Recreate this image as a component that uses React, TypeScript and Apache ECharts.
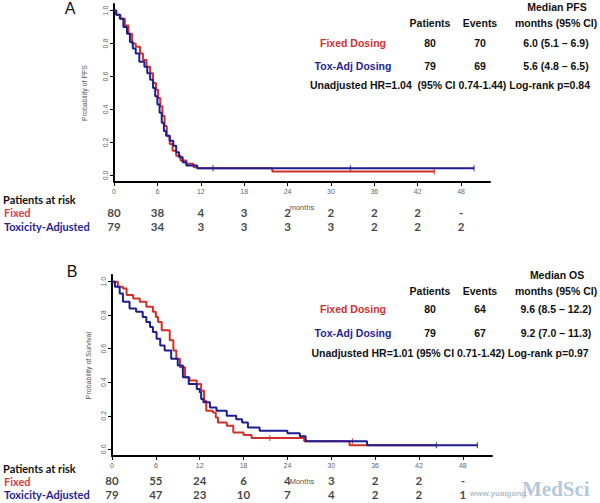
import React, { useEffect, useRef } from "react";
import * as echarts from "echarts";

// ---------- Data ----------
const RED = "#d0302a";
const BLUE = "#1e1e92";

// Panel A: Progression-free survival (months, probability after step)
const pfsFixedT = [0, 0.3, 0.9, 1.5, 2.0, 2.5, 3.0, 3.6, 4.0, 4.5, 5.0, 5.4, 5.8, 6.1, 6.4, 6.7, 7.0, 7.3, 7.7, 8.1, 8.6, 9.2, 10.0, 11.0, 11.6, 21.9, 44.3];
const pfsFixedS = [1.0, 0.975, 0.95, 0.91, 0.86, 0.8, 0.78, 0.74, 0.7, 0.66, 0.62, 0.56, 0.52, 0.47, 0.42, 0.36, 0.3, 0.24, 0.19, 0.15, 0.12, 0.09, 0.07, 0.05, 0.043, 0.024, 0.024];
const pfsToxT = [0, 0.3, 0.8, 1.3, 1.8, 2.2, 2.6, 3.0, 3.5, 4.2, 4.6, 5.0, 5.4, 5.7, 6.0, 6.3, 6.6, 6.9, 7.2, 7.7, 8.2, 8.6, 9.0, 9.5, 10.0, 11.5, 49.8];
const pfsToxS = [1.0, 0.975, 0.95, 0.9, 0.86, 0.81, 0.77, 0.74, 0.69, 0.66, 0.62, 0.58, 0.53, 0.48, 0.43, 0.38, 0.32, 0.27, 0.24, 0.21, 0.18, 0.14, 0.11, 0.08, 0.06, 0.043, 0.043];
const pfsFixedCensor = [[44.3, 0.024]];
const pfsToxCensor = [[13.7, 0.043], [32.7, 0.043], [49.8, 0.043]];

// Panel B: Overall survival
const osFixedT = [0, 0.8, 1.5, 2.0, 2.9, 3.8, 4.7, 5.6, 6.0, 6.3, 6.8, 7.9, 8.4, 8.8, 9.3, 10.0, 10.6, 11.6, 12.2, 12.6, 12.9, 13.8, 14.2, 14.5, 15.7, 16.6, 18.0, 19.1, 26.3, 32.5, 44.4];
const osFixedS = [1.0, 0.97, 0.96, 0.92, 0.9, 0.88, 0.85, 0.82, 0.79, 0.76, 0.71, 0.65, 0.59, 0.54, 0.49, 0.43, 0.41, 0.39, 0.35, 0.29, 0.23, 0.22, 0.19, 0.16, 0.14, 0.1, 0.085, 0.068, 0.048, 0.024, 0.024];
const osToxT = [0, 0.4, 1.05, 1.5, 2.4, 3.3, 4.2, 4.7, 5.2, 5.6, 6.1, 6.6, 7.2, 8.1, 9.0, 9.7, 10.5, 11.6, 12.0, 12.2, 12.5, 13.4, 14.3, 15.7, 17.0, 17.8, 18.6, 20.2, 24.0, 25.7, 26.5, 34.9, 50.0];
const osToxS = [1.0, 0.97, 0.93, 0.88, 0.84, 0.82, 0.79, 0.76, 0.73, 0.7, 0.66, 0.62, 0.59, 0.54, 0.5, 0.43, 0.39, 0.36, 0.34, 0.3, 0.28, 0.25, 0.23, 0.2, 0.18, 0.16, 0.13, 0.11, 0.096, 0.078, 0.048, 0.024, 0.024];
const osFixedCensor = [[21.6, 0.068], [32.9, 0.048]];
const osToxCensor = [[44.4, 0.024], [50.0, 0.024]];

// Axis ticks
const xTicks = [0, 6, 12, 18, 24, 30, 36, 42, 48];
const yTicks = [0, 0.2, 0.4, 0.6, 0.8, 1.0];

// Patients at risk
const riskMonths = [0, 6, 12, 18, 24, 30, 36, 42, 48];
const pfsRiskFixed = ["80", "38", "4", "3", "2", "2", "2", "2", "-"];
const pfsRiskTox = ["79", "34", "3", "3", "3", "3", "2", "2", "2"];
const osRiskFixed = ["80", "55", "24", "6", "4", "3", "2", "2", "-"];
const osRiskTox = ["79", "47", "23", "10", "7", "4", "2", "2", "1"];

// Summary tables
const tableHeader = ["Patients", "Events", "months (95% CI)"];
const pfsTitle = "Median PFS";
const pfsFixedRow = ["Fixed Dosing", "80", "70", "6.0 (5.1 \u2013 6.9)"];
const pfsToxRow = ["Tox-Adj Dosing", "79", "69", "5.6 (4.8 \u2013 6.5)"];
const pfsHR = "Unadjusted HR=1.04  (95% CI 0.74-1.44) Log-rank p=0.84";
const osTitle = "Median OS";
const osFixedRow = ["Fixed Dosing", "80", "64", "9.6 (8.5 \u2013 12.2)"];
const osToxRow = ["Tox-Adj Dosing", "79", "67", "9.2 (7.0 \u2013 11.3)"];
const osHR = "Unadjusted HR=1.01 (95% CI 0.71-1.42) Log-rank p=0.97";

// ---------- Helpers ----------
const zip = (t: number[], s: number[]) => t.map((v, i) => [v, s[i]]);

const ARIAL = "'Liberation Sans', Arial, sans-serif";
const CAL = "Lato, 'Open Sans', sans-serif";

function kmAxes(gridIndex: number, yName: string, xName: string, yGap: number) {
  const x = {
    type: "value",
    gridIndex,
    min: 0,
    max: 52,
    name: xName,
    nameLocation: "middle",
    nameGap: 21,
    nameTextStyle: { fontSize: 7.5, color: "#555", fontFamily: ARIAL },
    splitLine: { show: false },
    axisLine: { onZero: false, lineStyle: { color: "#000", width: 2 } },
    axisTick: { show: true, customValues: xTicks, length: 4, lineStyle: { color: "#000", width: 1 } },
    axisLabel: { customValues: xTicks, fontSize: 7, color: "#666", margin: 6, fontFamily: ARIAL },
  };
  const y = {
    type: "value",
    gridIndex,
    min: -0.04,
    max: 1.04,
    name: yName,
    nameLocation: "middle",
    nameGap: yGap,
    nameRotate: 90,
    nameTextStyle: { fontSize: 7, color: "#555", fontFamily: ARIAL },
    splitLine: { show: false },
    axisLine: { onZero: false, lineStyle: { color: "#000", width: 2 } },
    axisTick: { show: true, customValues: yTicks, length: 4, lineStyle: { color: "#000", width: 1 } },
    axisLabel: {
      customValues: yTicks,
      rotate: 90,
      fontSize: 7,
      color: "#666",
      margin: 5,
      fontFamily: ARIAL,
      formatter: (v: number) => v.toFixed(1),
    },
  };
  return { x, y };
}

function riskAxes(gridIndex: number) {
  return {
    x: { type: "value", gridIndex, min: 0, max: 52, show: false },
    y: { type: "category", gridIndex, data: ["Toxicity-Adjusted", "Fixed"], show: false },
  };
}

function kmLine(name: string, data: number[][], color: string, xi: number, yi: number) {
  return {
    type: "line",
    name,
    xAxisIndex: xi,
    yAxisIndex: yi,
    step: "end",
    symbol: "none",
    data,
    lineStyle: { color, width: 2 },
    itemStyle: { color },
    silent: true,
  };
}

function censor(data: number[][], color: string, xi: number, yi: number) {
  return {
    type: "scatter",
    xAxisIndex: xi,
    yAxisIndex: yi,
    symbol: "rect",
    symbolSize: [1.2, 6],
    data,
    itemStyle: { color },
    silent: true,
  };
}

function riskRow(values: string[], row: string, xi: number, yi: number) {
  return {
    type: "scatter",
    xAxisIndex: xi,
    yAxisIndex: yi,
    symbolSize: 1,
    itemStyle: { color: "transparent" },
    clip: false,
    silent: true,
    data: riskMonths.map((m, i) => ({ name: values[i], value: [m, row] })),
    label: {
      show: true,
      position: "inside",
      formatter: "{b}",
      fontSize: 11.5,
      fontWeight: "bold",
      fontFamily: CAL,
      color: "#111",
    },
  };
}

function txt(text: string, x: number, y: number, opts: any = {}) {
  return {
    type: "text",
    x,
    y,
    silent: true,
    style: {
      text,
      align: opts.align || "center",
      verticalAlign: "middle",
      fontSize: opts.size || 10.5,
      fontWeight: opts.weight || "bold",
      fontFamily: opts.family || ARIAL,
      fill: opts.color || "#111",
      opacity: opts.opacity == null ? 1 : opts.opacity,
    },
  };
}

function summaryTable(title: string, fixedRow: string[], toxRow: string[], hr: string, y0: number, rowYs: number[], hrY: number, headY: number) {
  const cols = [353, 430, 480, 556];
  const els: any[] = [];
  els.push(txt(title, 557, y0));
  tableHeader.forEach((h, i) => els.push(txt(h, cols[i + 1], headY)));
  fixedRow.forEach((v, i) => els.push(txt(v, cols[i], rowYs[0], { color: i === 0 ? "#cf3232" : "#111" })));
  toxRow.forEach((v, i) => els.push(txt(v, cols[i], rowYs[1], { color: i === 0 ? "#25258c" : "#111" })));
  els.push(txt(hr, 450, hrY));
  return els;
}

export default function App() {
  const ref = useRef<HTMLDivElement>(null);
  useEffect(() => {
    if (!ref.current) return;
    const chart = echarts.init(ref.current, undefined, { renderer: "svg" });
    const a = kmAxes(0, "Probability of PFS", "months", 26);
    const b = kmAxes(1, "Probability of Survival", "Months", 20);
    const ra = riskAxes(2);
    const rb = riskAxes(3);

    const graphics: any[] = [
      txt("A", 70, 8, { size: 16, weight: "normal" }),
      txt("B", 72, 271, { size: 16, weight: "normal" }),
      ...summaryTable(pfsTitle, pfsFixedRow, pfsToxRow, pfsHR, 7, [43, 66], 85, 23),
      ...summaryTable(osTitle, osFixedRow, osToxRow, osHR, 275, [309, 333], 353, 291),
      txt("Patients at risk", 3, 199, { align: "left", size: 11, family: CAL }),
      txt("Fixed", 4, 212, { align: "left", size: 11, family: CAL, color: "#d6404a" }),
      txt("Toxicity-Adjusted", 4, 226, { align: "left", size: 11, family: CAL, color: "#25258c" }),
      txt("Patients at risk", 3, 468, { align: "left", size: 11, family: CAL }),
      txt("Fixed", 4, 481, { align: "left", size: 11, family: CAL, color: "#d6404a" }),
      txt("Toxicity-Adjusted", 4, 494, { align: "left", size: 11, family: CAL, color: "#25258c" }),
      txt("www.yuaigong", 470, 493, { align: "left", size: 8, weight: "bold", color: "#9aa6b4", opacity: 0.75 }),
      txt("MedSci", 522, 489, { align: "left", size: 21, weight: "bold", family: "'Liberation Serif', serif", color: "#9fbad6", opacity: 0.8 }),
    ];

    chart.setOption({
      animation: false,
      backgroundColor: "#fff",
      grid: [
        { left: 114, width: 376, top: 4, height: 178 },
        { left: 112, width: 380, top: 275, height: 181 },
        { left: 114, width: 376, top: 205, height: 28 },
        { left: 112, width: 380, top: 474, height: 27 },
      ],
      xAxis: [a.x, b.x, ra.x, rb.x],
      yAxis: [a.y, b.y, ra.y, rb.y],
      series: [
        kmLine("Fixed", zip(pfsFixedT, pfsFixedS), RED, 0, 0),
        kmLine("Toxicity-Adjusted", zip(pfsToxT, pfsToxS), BLUE, 0, 0),
        censor(pfsFixedCensor, RED, 0, 0),
        censor(pfsToxCensor, BLUE, 0, 0),
        kmLine("Fixed", zip(osFixedT, osFixedS), RED, 1, 1),
        kmLine("Toxicity-Adjusted", zip(osToxT, osToxS), BLUE, 1, 1),
        censor(osFixedCensor, RED, 1, 1),
        censor(osToxCensor, BLUE, 1, 1),
        riskRow(pfsRiskFixed, "Fixed", 2, 2),
        riskRow(pfsRiskTox, "Toxicity-Adjusted", 2, 2),
        riskRow(osRiskFixed, "Fixed", 3, 3),
        riskRow(osRiskTox, "Toxicity-Adjusted", 3, 3),
      ],
      graphic: graphics,
    });
    return () => chart.dispose();
  }, []);
  return (
    <div
      ref={ref}
      style={{ position: "fixed", left: 0, top: 0, width: 600, height: 503, background: "#fff" }}
    />
  );
}
